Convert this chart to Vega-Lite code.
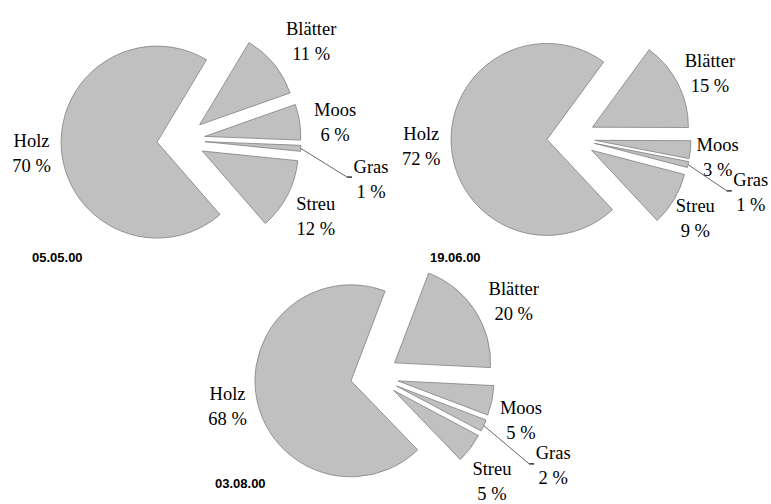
{
  "$schema": "https://vega.github.io/schema/vega-lite/v6.json",
  "padding": 0,
  "spacing": 0,
  "background": "white",
  "config": {
    "view": {"stroke": null},
    "title": {"font": "Liberation Sans", "fontSize": 13, "fontWeight": "bold", "color": "black"}
  },
  "datasets": {
    "pies": [
      {"date": "05.05.00", "name": "Holz", "pct": 70, "order": 1},
      {"date": "05.05.00", "name": "Blätter", "pct": 11, "order": 2},
      {"date": "05.05.00", "name": "Moos", "pct": 6, "order": 3},
      {"date": "05.05.00", "name": "Gras", "pct": 1, "order": 4},
      {"date": "05.05.00", "name": "Streu", "pct": 12, "order": 5},
      {"date": "19.06.00", "name": "Holz", "pct": 72, "order": 1},
      {"date": "19.06.00", "name": "Blätter", "pct": 15, "order": 2},
      {"date": "19.06.00", "name": "Moos", "pct": 3, "order": 3},
      {"date": "19.06.00", "name": "Gras", "pct": 1, "order": 4},
      {"date": "19.06.00", "name": "Streu", "pct": 9, "order": 5},
      {"date": "03.08.00", "name": "Holz", "pct": 68, "order": 1},
      {"date": "03.08.00", "name": "Blätter", "pct": 20, "order": 2},
      {"date": "03.08.00", "name": "Moos", "pct": 5, "order": 3},
      {"date": "03.08.00", "name": "Gras", "pct": 2, "order": 4},
      {"date": "03.08.00", "name": "Streu", "pct": 5, "order": 5}
    ]
  },
  "vconcat": [
    {
      "bounds": "flush",
      "spacing": 0,
      "hconcat": [
        {
          "width": 385, "height": 250,
          "data": {"name": "pies"},
          "title": {"text": "05.05.00", "orient": "bottom", "anchor": "start", "frame": "group", "dx": 32, "offset": 2},
          "transform": [
            {"filter": "datum.date == '05.05.00'"},
            {"window": [{"op": "sum", "field": "pct", "as": "cum"}], "sort": [{"field": "order", "order": "ascending"}], "frame": [null, 0]},
            {"calculate": "datum.cum - datum.pct", "as": "t0"},
            {"calculate": "2.426 + 2*PI*(datum.cum - datum.pct/2)/100", "as": "ang"},
            {"calculate": "24*sin(datum.ang)", "as": "ex"},
            {"calculate": "24*cos(datum.ang)", "as": "ey"},
            {"calculate": "datum.pct <= 2 ? 194 : (datum.order == 1 ? 150 : (datum.order == 2 ? 163 : 155))", "as": "ld"},
            {"calculate": "datum.pct <= 2 ? datum.ang + 0.133 : (datum.order == 1 ? datum.ang : datum.ang + 0.038)", "as": "la"},
            {"calculate": "datum.ld*sin(datum.la)", "as": "lx"},
            {"calculate": "datum.ld*cos(datum.la)", "as": "ly"},
            {"calculate": "120*sin(datum.ang)", "as": "sx"},
            {"calculate": "120*cos(datum.ang)", "as": "sy"},
            {"calculate": "datum.lx - 24", "as": "qx"},
            {"calculate": "datum.ly + 2", "as": "qy"},
            {"calculate": "datum.qx + 5", "as": "tx"},
            {"calculate": "datum.name + '\\n' + datum.pct + ' %'", "as": "label"}
          ],
          "layer": [
            {
              "mark": {"type": "arc", "outerRadius": 96, "fill": "#c0c0c0", "stroke": "#808080", "strokeWidth": 0.8},
              "encoding": {
                "x": {"field": "ex", "type": "quantitative", "stack": null, "scale": {"domain": [-181, 204], "nice": false, "zero": false}, "axis": null},
                "y": {"field": "ey", "type": "quantitative", "stack": null, "scale": {"domain": [-110, 140], "nice": false, "zero": false}, "axis": null},
                "theta": {"field": "t0", "type": "quantitative", "stack": null, "scale": {"domain": [0, 100], "range": [2.426, 8.709]}},
                "theta2": {"field": "cum"}
              }
            },
            {
              "mark": {"type": "text", "font": "Liberation Serif", "fontSize": 18.5, "lineHeight": 25, "lineBreak": "\n", "align": "center", "baseline": "middle", "dy": -12.5, "color": "black"},
              "encoding": {
                "x": {"field": "lx", "type": "quantitative", "stack": null, "scale": {"domain": [-181, 204], "nice": false, "zero": false}, "axis": null},
                "y": {"field": "ly", "type": "quantitative", "stack": null, "scale": {"domain": [-110, 140], "nice": false, "zero": false}, "axis": null},
                "text": {"field": "label", "type": "nominal"}
              }
            },
            {
              "transform": [{"filter": "datum.pct <= 2"}],
              "mark": {"type": "rule", "color": "#404040", "strokeWidth": 0.8},
              "encoding": {
                "x": {"field": "sx", "type": "quantitative", "axis": null},
                "y": {"field": "sy", "type": "quantitative", "axis": null},
                "x2": {"field": "qx"},
                "y2": {"field": "qy"}
              }
            },
            {
              "transform": [{"filter": "datum.pct <= 2"}],
              "mark": {"type": "rule", "color": "black", "strokeWidth": 1.2},
              "encoding": {
                "x": {"field": "qx", "type": "quantitative", "axis": null},
                "y": {"field": "qy", "type": "quantitative", "axis": null},
                "x2": {"field": "tx"},
                "y2": {"field": "qy"}
              }
            }
          ]
        },
        {
          "width": 386, "height": 250,
          "data": {"name": "pies"},
          "title": {"text": "19.06.00", "orient": "bottom", "anchor": "start", "frame": "group", "dx": 45, "offset": 2},
          "transform": [
            {"filter": "datum.date == '19.06.00'"},
            {"window": [{"op": "sum", "field": "pct", "as": "cum"}], "sort": [{"field": "order", "order": "ascending"}], "frame": [null, 0]},
            {"calculate": "datum.cum - datum.pct", "as": "t0"},
            {"calculate": "2.391 + 2*PI*(datum.cum - datum.pct/2)/100", "as": "ang"},
            {"calculate": "24*sin(datum.ang)", "as": "ex"},
            {"calculate": "24*cos(datum.ang)", "as": "ey"},
            {"calculate": "datum.pct <= 2 ? 188 : (datum.order == 1 ? 150 : (datum.order == 2 ? 153 : 148))", "as": "ld"},
            {"calculate": "datum.pct <= 2 ? datum.ang + 0.073 : (datum.order == 1 ? datum.ang : datum.ang + 0.036)", "as": "la"},
            {"calculate": "datum.ld*sin(datum.la)", "as": "lx"},
            {"calculate": "datum.ld*cos(datum.la)", "as": "ly"},
            {"calculate": "120*sin(datum.ang)", "as": "sx"},
            {"calculate": "120*cos(datum.ang)", "as": "sy"},
            {"calculate": "datum.lx - 24", "as": "qx"},
            {"calculate": "datum.ly + 2", "as": "qy"},
            {"calculate": "datum.qx + 5", "as": "tx"},
            {"calculate": "datum.name + '\\n' + datum.pct + ' %'", "as": "label"}
          ],
          "layer": [
            {
              "mark": {"type": "arc", "outerRadius": 96, "fill": "#c0c0c0", "stroke": "#808080", "strokeWidth": 0.8},
              "encoding": {
                "x": {"field": "ex", "type": "quantitative", "stack": null, "scale": {"domain": [-186, 200], "nice": false, "zero": false}, "axis": null},
                "y": {"field": "ey", "type": "quantitative", "stack": null, "scale": {"domain": [-112, 138], "nice": false, "zero": false}, "axis": null},
                "theta": {"field": "t0", "type": "quantitative", "stack": null, "scale": {"domain": [0, 100], "range": [2.391, 8.674]}},
                "theta2": {"field": "cum"}
              }
            },
            {
              "mark": {"type": "text", "font": "Liberation Serif", "fontSize": 18.5, "lineHeight": 25, "lineBreak": "\n", "align": "center", "baseline": "middle", "dy": -12.5, "color": "black"},
              "encoding": {
                "x": {"field": "lx", "type": "quantitative", "stack": null, "scale": {"domain": [-186, 200], "nice": false, "zero": false}, "axis": null},
                "y": {"field": "ly", "type": "quantitative", "stack": null, "scale": {"domain": [-112, 138], "nice": false, "zero": false}, "axis": null},
                "text": {"field": "label", "type": "nominal"}
              }
            },
            {
              "transform": [{"filter": "datum.pct <= 2"}],
              "mark": {"type": "rule", "color": "#404040", "strokeWidth": 0.8},
              "encoding": {
                "x": {"field": "sx", "type": "quantitative", "axis": null},
                "y": {"field": "sy", "type": "quantitative", "axis": null},
                "x2": {"field": "qx"},
                "y2": {"field": "qy"}
              }
            },
            {
              "transform": [{"filter": "datum.pct <= 2"}],
              "mark": {"type": "rule", "color": "black", "strokeWidth": 1.2},
              "encoding": {
                "x": {"field": "qx", "type": "quantitative", "axis": null},
                "y": {"field": "qy", "type": "quantitative", "axis": null},
                "x2": {"field": "tx"},
                "y2": {"field": "qy"}
              }
            }
          ]
        }
      ]
    },
    {
      "width": 771, "height": 212,
      "data": {"name": "pies"},
      "title": {"text": "03.08.00", "orient": "bottom", "anchor": "start", "frame": "group", "dx": 215, "offset": -26},
      "transform": [
        {"filter": "datum.date == '03.08.00'"},
        {"window": [{"op": "sum", "field": "pct", "as": "cum"}], "sort": [{"field": "order", "order": "ascending"}], "frame": [null, 0]},
        {"calculate": "datum.cum - datum.pct", "as": "t0"},
        {"calculate": "2.374 + 2*PI*(datum.cum - datum.pct/2)/100", "as": "ang"},
        {"calculate": "24*sin(datum.ang)", "as": "ex"},
        {"calculate": "24*cos(datum.ang)", "as": "ey"},
        {"calculate": "datum.pct <= 2 ? 200 : (datum.order == 1 ? 150 : (datum.order == 3 ? 153 : 158))", "as": "ld"},
        {"calculate": "datum.pct <= 2 ? datum.ang + 0.04 : (datum.order == 1 ? datum.ang : datum.ang + 0.087)", "as": "la"},
        {"calculate": "datum.ld*sin(datum.la)", "as": "lx"},
        {"calculate": "datum.ld*cos(datum.la)", "as": "ly"},
        {"calculate": "120*sin(datum.ang)", "as": "sx"},
        {"calculate": "120*cos(datum.ang)", "as": "sy"},
        {"calculate": "datum.lx - 24", "as": "qx"},
        {"calculate": "datum.ly + 2", "as": "qy"},
        {"calculate": "datum.qx + 5", "as": "tx"},
        {"calculate": "datum.name + '\\n' + datum.pct + ' %'", "as": "label"}
      ],
      "layer": [
        {
          "mark": {"type": "arc", "outerRadius": 96, "fill": "#c0c0c0", "stroke": "#808080", "strokeWidth": 0.8},
          "encoding": {
            "x": {"field": "ex", "type": "quantitative", "stack": null, "scale": {"domain": [-374.5, 396.5], "nice": false, "zero": false}, "axis": null},
            "y": {"field": "ey", "type": "quantitative", "stack": null, "scale": {"domain": [-101, 111], "nice": false, "zero": false}, "axis": null},
            "theta": {"field": "t0", "type": "quantitative", "stack": null, "scale": {"domain": [0, 100], "range": [2.374, 8.657]}},
            "theta2": {"field": "cum"}
          }
        },
        {
          "mark": {"type": "text", "font": "Liberation Serif", "fontSize": 18.5, "lineHeight": 25, "lineBreak": "\n", "align": "center", "baseline": "middle", "dy": -12.5, "color": "black"},
          "encoding": {
            "x": {"field": "lx", "type": "quantitative", "stack": null, "scale": {"domain": [-374.5, 396.5], "nice": false, "zero": false}, "axis": null},
            "y": {"field": "ly", "type": "quantitative", "stack": null, "scale": {"domain": [-101, 111], "nice": false, "zero": false}, "axis": null},
            "text": {"field": "label", "type": "nominal"}
          }
        },
        {
          "transform": [{"filter": "datum.pct <= 2"}],
          "mark": {"type": "rule", "color": "#404040", "strokeWidth": 0.8},
          "encoding": {
            "x": {"field": "sx", "type": "quantitative", "axis": null},
            "y": {"field": "sy", "type": "quantitative", "axis": null},
            "x2": {"field": "qx"},
            "y2": {"field": "qy"}
          }
        },
        {
          "transform": [{"filter": "datum.pct <= 2"}],
          "mark": {"type": "rule", "color": "black", "strokeWidth": 1.2},
          "encoding": {
            "x": {"field": "qx", "type": "quantitative", "axis": null},
            "y": {"field": "qy", "type": "quantitative", "axis": null},
            "x2": {"field": "tx"},
            "y2": {"field": "qy"}
          }
        }
      ]
    }
  ]
}
